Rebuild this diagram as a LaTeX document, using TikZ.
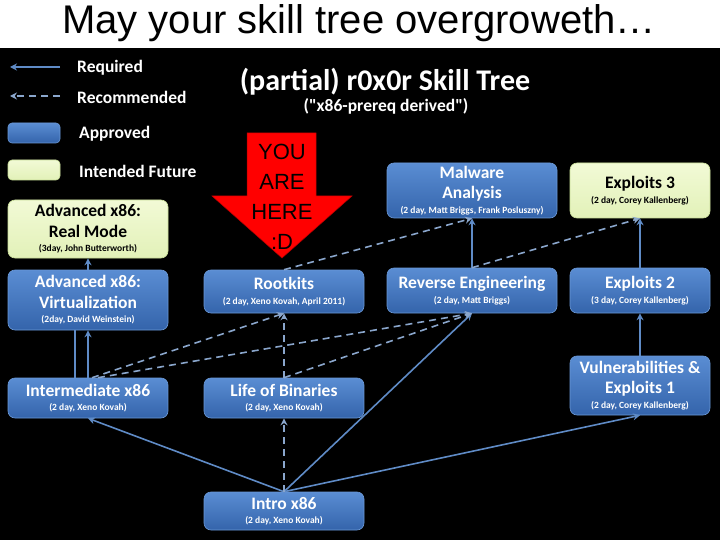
\documentclass[tikz,border=0pt]{standalone}
\usepackage{fontspec}
\setmainfont{Carlito}
\newfontfamily\arialfont{Liberation Sans}
\usetikzlibrary{arrows.meta}
\definecolor{slidetop}{HTML}{5A8DD3}
\definecolor{slidebot}{HTML}{3464AB}
\definecolor{rimblue}{HTML}{6A98D6}
\definecolor{futuretop}{HTML}{F2FAD6}
\definecolor{futurebot}{HTML}{E2F1B8}
\definecolor{futurerim}{HTML}{C9DE98}
\definecolor{linkblue}{HTML}{5F8BC6}
\definecolor{hintblue}{HTML}{8AA6CC}
\definecolor{herered}{HTML}{FF0000}
\tikzset{
  course/.style={rectangle, rounded corners=7pt, draw=rimblue, line width=0.6pt,
    top color=slidetop, bottom color=slidebot, text=white, align=center,
    inner sep=2pt, font=\fontsize{17.5}{20.5}\selectfont\bfseries},
  future/.style={course, draw=futurerim, top color=futuretop, bottom color=futurebot, text=black},
  need/.style={-{Stealth[length=7pt,width=7pt]}, draw=linkblue, line width=1.6pt},
  hint/.style={need, dash pattern=on 7pt off 5pt, draw=hintblue},
  legendtxt/.style={anchor=west, text=white, inner sep=0pt, font=\fontsize{17.5}{19}\selectfont\bfseries}
}
\newcommand{\who}[1]{\\[-6pt]{\fontsize{9.5}{11}\selectfont #1}}
\begin{document}
\begin{tikzpicture}[x=1pt, y=-1pt]
\fill[white] (0,0) rectangle (720,540);
\fill[black] (0,48) rectangle (720,540);
\useasboundingbox (0,0) rectangle (720,540);

\node[font=\arialfont\fontsize{40}{44}\selectfont] (slidetitle) at (359,23) {May your skill tree overgroweth\dots};

% legend
\coordinate (reqA) at (60,67);
\coordinate (reqB) at (10,67);
\coordinate (recA) at (60,96);
\coordinate (recB) at (10,96);
\draw[need, line width=1.2pt] (reqA) -- (reqB);
\draw[hint, line width=1.2pt] (recA) -- (recB);
\node[legendtxt] (reqtxt) at (77,68) {Required};
\node[legendtxt] (rectxt) at (77,97) {Recommended};
\node[course, rounded corners=4pt, minimum width=52pt, minimum height=20pt] (apprbox) at (34,133) {};
\node[future, rounded corners=4pt, minimum width=52pt, minimum height=20pt] (futbox) at (34,170) {};
\node[legendtxt] (apprtxt) at (79,134) {Approved};
\node[legendtxt] (futtxt) at (79,171) {Intended Future};

\node[text=white, font=\fontsize{30}{32}\selectfont\bfseries] (treetitle) at (385,82) {(partial) r0x0r Skill Tree};
\node[text=white, font=\fontsize{17.5}{19}\selectfont\bfseries] (treesub) at (386,106) {(\textquotedbl x86-prereq derived\textquotedbl)};

% courses
\node[future, minimum width=160pt, minimum height=58pt] (real) at (88,229)
  {Advanced x86:\\Real Mode\who{(3day, John Butterworth)}};
\node[course, minimum width=160pt, minimum height=60pt] (virt) at (88,300)
  {Advanced x86:\\Virtualization\who{(2day, David Weinstein)}};
\node[course, minimum width=160pt, minimum height=40pt] (inter) at (88,398)
  {Intermediate x86\who{(2 day, Xeno Kovah)}};
\node[course, minimum width=160pt, minimum height=43pt] (root) at (284,291.5)
  {Rootkits\who{(2 day, Xeno Kovah, April 2011)}};
\node[course, minimum width=160pt, minimum height=40pt] (life) at (284,398)
  {Life of Binaries\who{(2 day, Xeno Kovah)}};
\node[course, minimum width=160pt, minimum height=38pt] (intro) at (284,511)
  {Intro x86\who{(2 day, Xeno Kovah)}};
\node[course, minimum width=170pt, minimum height=55pt] (malware) at (472,190.5)
  {Malware\\Analysis\who{(2 day, Matt Briggs, Frank Posluszny)}};
\node[course, minimum width=170pt, minimum height=45pt] (rev) at (472,290.5)
  {Reverse Engineering\who{(2 day, Matt Briggs)}};
\node[future, minimum width=140pt, minimum height=55pt] (expthree) at (640,190.5)
  {Exploits 3\who{(2 day, Corey Kallenberg)}};
\node[course, minimum width=140pt, minimum height=45pt] (exptwo) at (640,290.5)
  {Exploits 2\who{(3 day, Corey Kallenberg)}};
\node[course, minimum width=140pt, minimum height=59pt] (vuln) at (640,385.5)
  {Vulnerabilities \&\\Exploits 1\who{(2 day, Corey Kallenberg)}};

% required
\draw[need] (virt.north) -- (real.south);
\draw[need] (inter.north) -- (virt.south);
\draw[draw=linkblue, line width=1.6pt] ([xshift=-13pt]inter.north) -- ([xshift=-13pt]virt.south);
\draw[need] (intro.north) -- (inter.south);
\draw[need] (intro.north) -- (rev.south);
\draw[need] (intro.north) -- (vuln.south);
\draw[need] (rev.north) -- (malware.south);
\draw[need] (exptwo.north) -- (expthree.south);
\draw[need] (vuln.north) -- (exptwo.south);

% recommended
\draw[hint] (intro.north) -- (life.south);
\draw[hint] (life.north) -- (root.south);
\draw[hint] (life.north) -- (rev.south);
\draw[hint] ([xshift=4pt]inter.north) -- (root.south);
\draw[hint] ([xshift=10pt]inter.north) -- (rev.south);
\draw[hint] (root.north) -- (malware.south);
\draw[hint] (rev.north) -- (expthree.south);

% you are here
\fill[herered, draw=red!70!black, line width=0.5pt]
  (247,133) -- (316,133) -- (316,196) -- (352,196) -- (282,258)
  -- (212,196) -- (247,196) -- cycle;
\node[align=center, font=\arialfont\fontsize{22}{30}\selectfont] (here) at (282,197)
  {YOU\\ARE\\HERE\\:D};
\end{tikzpicture}
\end{document}
